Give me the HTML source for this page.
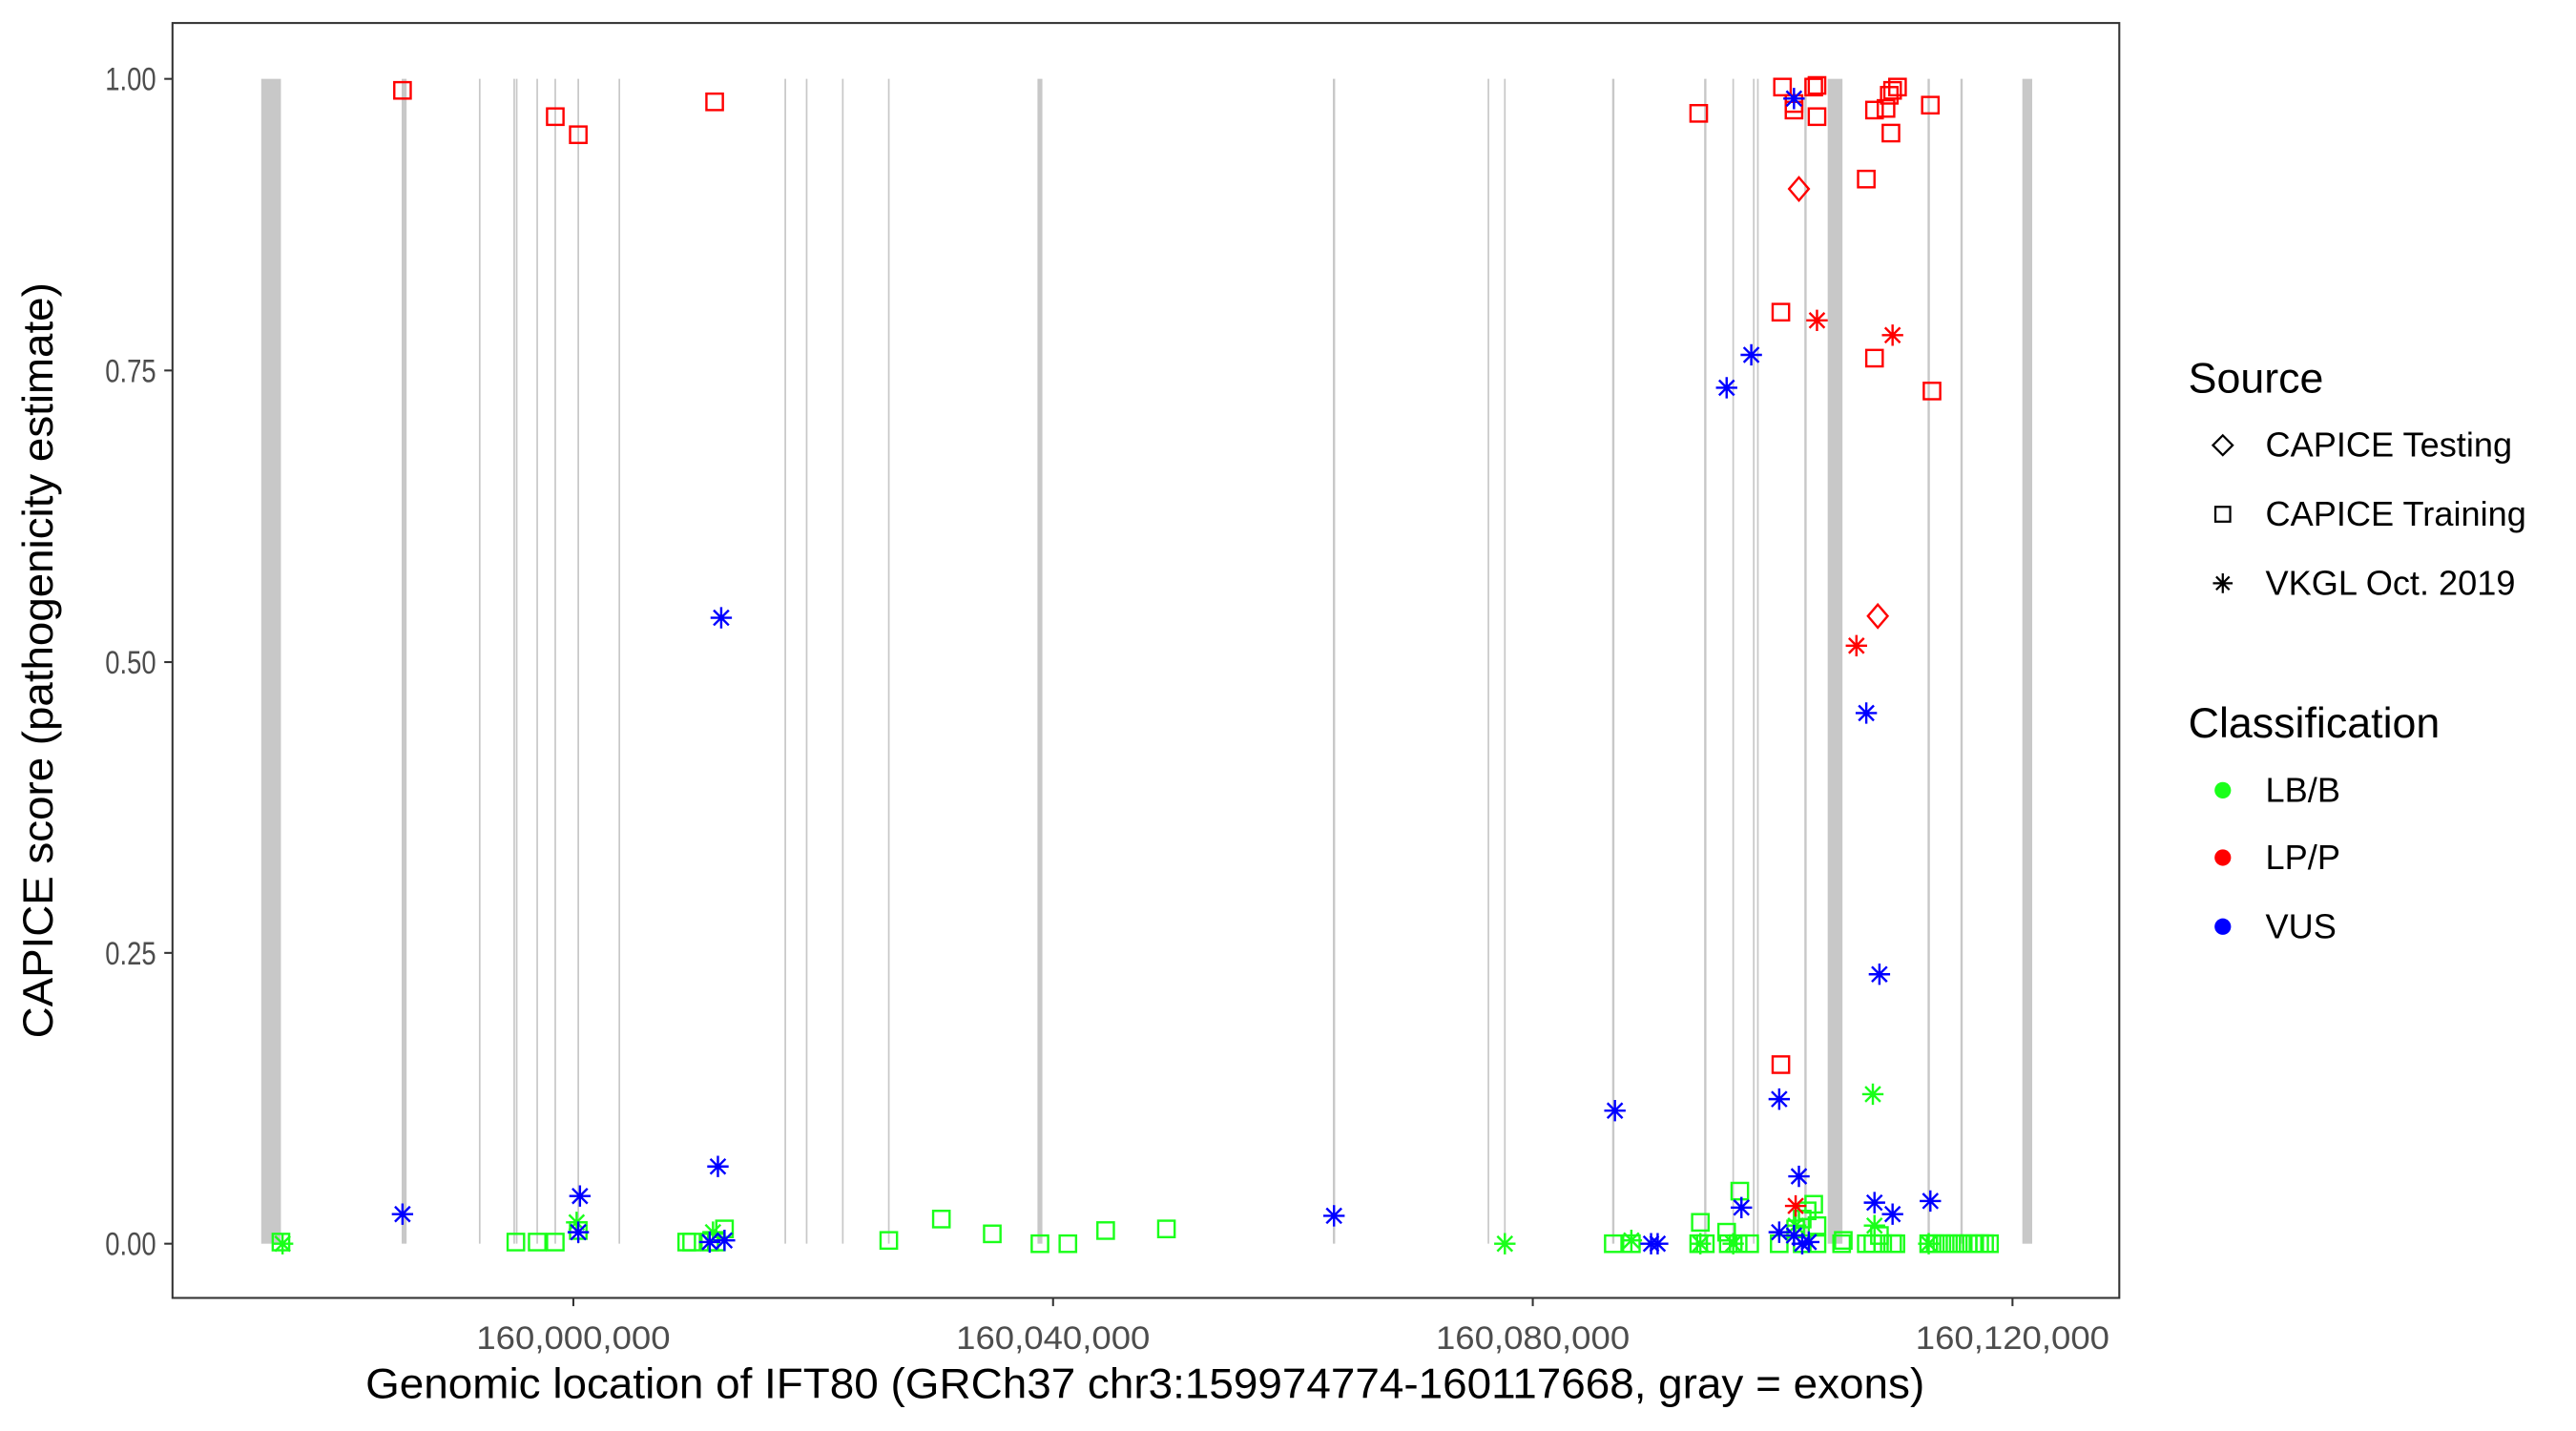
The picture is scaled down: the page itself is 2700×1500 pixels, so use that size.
<!DOCTYPE html>
<html><head><meta charset="utf-8"><style>
html,body{margin:0;padding:0;background:#fff;}
svg{display:block;}
text{font-family:"Liberation Sans",Arial,sans-serif;}
</style></head><body>
<svg width="2700" height="1500" viewBox="0 0 1568 871" preserveAspectRatio="none" xmlns="http://www.w3.org/2000/svg">
<defs>
<rect id="sq" x="-5" y="-5" width="10" height="10" fill="none" stroke-width="1.4"/>
<path id="di" d="M0,-7 L6,0 L0,7 L-6,0 Z" fill="none" stroke-width="1.4"/>
<path id="as" d="M-6.5,0H6.5M0,-6.5V6.5M-4.6,-4.6L4.6,4.6M-4.6,4.6L4.6,-4.6" fill="none" stroke-width="1.4"/>
</defs>
<rect x="0" y="0" width="1568" height="871" fill="#fff"/>
<g stroke="#c8c8c8" fill="#c8c8c8">
<rect x="159" y="48" width="12" height="709" stroke="none"/>
<rect x="1112.5" y="48" width="9" height="709" stroke="none"/>
<rect x="1231" y="48" width="6" height="709" stroke="none"/>
<line x1="246" x2="246" y1="48" y2="757" stroke-width="3"/>
<line x1="633" x2="633" y1="48" y2="757" stroke-width="3"/>
<g stroke-width="1">
<line x1="292" x2="292" y1="48" y2="757"/>
<line x1="313" x2="313" y1="48" y2="757"/>
<line x1="314.5" x2="314.5" y1="48" y2="757"/>
<line x1="327" x2="327" y1="48" y2="757"/>
<line x1="338" x2="338" y1="48" y2="757"/>
<line x1="352" x2="352" y1="48" y2="757"/>
<line x1="377" x2="377" y1="48" y2="757"/>
<line x1="478" x2="478" y1="48" y2="757"/>
<line x1="491" x2="491" y1="48" y2="757"/>
<line x1="513" x2="513" y1="48" y2="757"/>
<line x1="541" x2="541" y1="48" y2="757"/>
<line x1="812" x2="812" y1="48" y2="757" stroke-width="1.4"/>
<line x1="906" x2="906" y1="48" y2="757"/>
<line x1="916" x2="916" y1="48" y2="757"/>
<line x1="982" x2="982" y1="48" y2="757" stroke-width="1.4"/>
<line x1="1038" x2="1038" y1="48" y2="757" stroke-width="1.4"/>
<line x1="1055" x2="1055" y1="48" y2="757"/>
<line x1="1067.5" x2="1067.5" y1="48" y2="757"/>
<line x1="1070" x2="1070" y1="48" y2="757"/>
<line x1="1099" x2="1099" y1="48" y2="757" stroke-width="1.4"/>
<line x1="1174" x2="1174" y1="48" y2="757" stroke-width="1.4"/>
<line x1="1194" x2="1194" y1="48" y2="757" stroke-width="1.4"/>
</g>
</g>
<g stroke="#1aff1a">
<use href="#sq" x="171" y="756"/><use href="#as" x="172" y="757"/>
<use href="#sq" x="314" y="756"/><use href="#sq" x="327" y="756"/><use href="#sq" x="338" y="756"/>
<use href="#as" x="351" y="744"/><use href="#sq" x="352" y="749"/>
<use href="#sq" x="418" y="756"/><use href="#sq" x="421" y="756"/><use href="#sq" x="432" y="756"/><use href="#sq" x="436" y="756"/><use href="#sq" x="441" y="748"/><use href="#as" x="434" y="750"/>
<use href="#sq" x="541" y="755"/><use href="#sq" x="573" y="742"/><use href="#sq" x="604" y="751"/><use href="#sq" x="633" y="757"/><use href="#sq" x="650" y="757"/><use href="#sq" x="673" y="749"/><use href="#sq" x="710" y="748"/>
<use href="#as" x="916" y="757"/>
<use href="#sq" x="982" y="757"/><use href="#sq" x="993" y="757"/><use href="#as" x="993" y="755"/>
<use href="#sq" x="1034" y="757"/><use href="#sq" x="1035" y="744"/><use href="#sq" x="1038" y="757"/><use href="#as" x="1035" y="757"/>
<use href="#sq" x="1051" y="750"/><use href="#sq" x="1052" y="757"/><use href="#sq" x="1059" y="725"/><use href="#sq" x="1058" y="757"/><use href="#sq" x="1065" y="757"/><use href="#as" x="1055" y="757"/>
<use href="#sq" x="1083" y="757"/><use href="#sq" x="1093" y="748"/><use href="#sq" x="1097" y="742"/><use href="#sq" x="1100" y="737"/><use href="#sq" x="1104" y="733"/><use href="#sq" x="1097" y="757"/><use href="#sq" x="1106" y="757"/><use href="#sq" x="1106" y="746"/><use href="#as" x="1093" y="746"/>
<use href="#sq" x="1121" y="757"/><use href="#sq" x="1122" y="755"/>
<use href="#as" x="1140" y="666"/><use href="#as" x="1141" y="746"/>
<use href="#sq" x="1136" y="757"/><use href="#sq" x="1140" y="757"/><use href="#sq" x="1144" y="752"/><use href="#sq" x="1146" y="757"/><use href="#sq" x="1152" y="757"/><use href="#sq" x="1154" y="757"/>
<use href="#as" x="1174" y="757"/>
<use href="#sq" x="1174" y="757"/><use href="#sq" x="1178" y="757"/><use href="#sq" x="1182" y="757"/><use href="#sq" x="1186" y="757"/><use href="#sq" x="1190" y="757"/><use href="#sq" x="1194" y="757"/><use href="#sq" x="1198" y="757"/><use href="#sq" x="1202" y="757"/><use href="#sq" x="1205" y="757"/><use href="#sq" x="1208" y="757"/><use href="#sq" x="1211" y="757"/>
</g>
<g stroke="#ff0000">
<use href="#sq" x="245" y="55"/><use href="#sq" x="338" y="71"/><use href="#sq" x="352" y="82"/><use href="#sq" x="435" y="62"/>
<use href="#sq" x="1034" y="69"/><use href="#sq" x="1085" y="53"/><use href="#sq" x="1092" y="63"/><use href="#sq" x="1092" y="67"/><use href="#sq" x="1104" y="53"/><use href="#sq" x="1106" y="52"/><use href="#sq" x="1106" y="71"/>
<use href="#sq" x="1141" y="67"/><use href="#sq" x="1148" y="66"/><use href="#sq" x="1150" y="58"/><use href="#sq" x="1152" y="55"/><use href="#sq" x="1155" y="53"/><use href="#sq" x="1151" y="81"/><use href="#sq" x="1175" y="64"/>
<use href="#sq" x="1136" y="109"/><use href="#sq" x="1084" y="190"/><use href="#sq" x="1141" y="218"/><use href="#sq" x="1176" y="238"/><use href="#sq" x="1084" y="648"/>
<use href="#di" x="1095" y="115"/><use href="#di" x="1143" y="375"/>
<use href="#as" x="1106" y="195"/><use href="#as" x="1152" y="204"/><use href="#as" x="1130" y="393"/><use href="#as" x="1093" y="734"/>
</g>
<g stroke="#0000ff">
<use href="#as" x="1092" y="60"/><use href="#as" x="1051" y="236"/><use href="#as" x="1066" y="216"/><use href="#as" x="439" y="376"/>
<use href="#as" x="1136" y="434"/><use href="#as" x="1144" y="593"/><use href="#as" x="1083" y="669"/><use href="#as" x="983" y="676"/>
<use href="#as" x="437" y="710"/><use href="#as" x="353" y="728"/><use href="#as" x="245" y="739"/><use href="#as" x="812" y="740"/>
<use href="#as" x="1095" y="716"/><use href="#as" x="1060" y="735"/><use href="#as" x="1141" y="732"/><use href="#as" x="1152" y="739"/><use href="#as" x="1175" y="731"/>
<use href="#as" x="352" y="750"/><use href="#as" x="1083" y="750"/><use href="#as" x="1092" y="752"/><use href="#as" x="1101" y="756"/>
<use href="#as" x="1005" y="757"/><use href="#as" x="1009" y="757"/><use href="#as" x="432" y="756"/><use href="#as" x="441" y="755"/><use href="#as" x="1097" y="757"/>
</g>
<rect x="105" y="14" width="1185" height="776" fill="none" stroke="#333" stroke-width="1.2"/>
<g stroke="#333" stroke-width="1.2">
<line x1="100" x2="105" y1="48" y2="48"/><line x1="100" x2="105" y1="225.5" y2="225.5"/><line x1="100" x2="105" y1="403" y2="403"/><line x1="100" x2="105" y1="580" y2="580"/><line x1="100" x2="105" y1="757" y2="757"/>
<line x1="349" x2="349" y1="790" y2="795"/><line x1="641" x2="641" y1="790" y2="795"/><line x1="933" x2="933" y1="790" y2="795"/><line x1="1225" x2="1225" y1="790" y2="795"/>
</g>
<g fill="#4d4d4d" font-size="20" text-anchor="end">
<text x="95" y="55" textLength="31" lengthAdjust="spacingAndGlyphs">1.00</text>
<text x="95" y="232.5" textLength="31" lengthAdjust="spacingAndGlyphs">0.75</text>
<text x="95" y="410" textLength="31" lengthAdjust="spacingAndGlyphs">0.50</text>
<text x="95" y="587" textLength="31" lengthAdjust="spacingAndGlyphs">0.25</text>
<text x="95" y="764" textLength="31" lengthAdjust="spacingAndGlyphs">0.00</text>
</g>
<g fill="#4d4d4d" font-size="20">
<text x="290" y="821" textLength="118" lengthAdjust="spacingAndGlyphs">160,000,000</text>
<text x="582" y="821" textLength="118" lengthAdjust="spacingAndGlyphs">160,040,000</text>
<text x="874" y="821" textLength="118" lengthAdjust="spacingAndGlyphs">160,080,000</text>
<text x="1166" y="821" textLength="118" lengthAdjust="spacingAndGlyphs">160,120,000</text>
</g>
<text x="697" y="851" font-size="26" text-anchor="middle" fill="#000" textLength="949" lengthAdjust="spacingAndGlyphs">Genomic location of IFT80 (GRCh37 chr3:159974774-160117668, gray = exons)</text>
<text transform="translate(32,402) rotate(-90)" font-size="26" text-anchor="middle" fill="#000" textLength="460" lengthAdjust="spacingAndGlyphs">CAPICE score (pathogenicity estimate)</text>
<text x="1332" y="239" font-size="26" fill="#000">Source</text>
<g stroke="#000" fill="none" stroke-width="1.3">
<path d="M1353,265 L1359,271 L1353,277 L1347,271 Z"/>
<rect x="1348.5" y="308.5" width="9" height="9"/>
<path d="M1347,355H1359M1353,349V361M1349,351L1357,359M1349,359L1357,351"/>
</g>
<g font-size="21" fill="#000">
<text x="1379" y="278">CAPICE Testing</text>
<text x="1379" y="320">CAPICE Training</text>
<text x="1379" y="362">VKGL Oct. 2019</text>
</g>
<text x="1332" y="449" font-size="26" fill="#000">Classification</text>
<circle cx="1353" cy="481" r="5" fill="#1aff1a"/>
<circle cx="1353" cy="522" r="5" fill="#ff0000"/>
<circle cx="1353" cy="564" r="5" fill="#0000ff"/>
<g font-size="21" fill="#000">
<text x="1379" y="488">LB/B</text>
<text x="1379" y="529">LP/P</text>
<text x="1379" y="571">VUS</text>
</g>
</svg>
</body></html>
